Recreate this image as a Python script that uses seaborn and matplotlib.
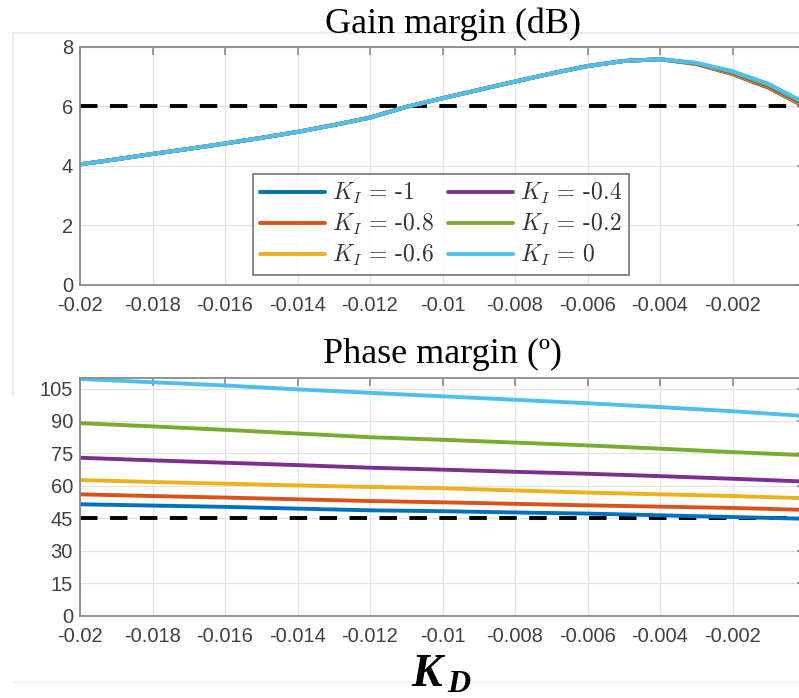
import numpy as np
import pandas as pd
import matplotlib
matplotlib.use("Agg")
import matplotlib.pyplot as plt
from matplotlib.lines import Line2D
import seaborn as sns

# ---------------- data ----------------
kd_gain = [-0.020, -0.019, -0.018, -0.017, -0.016, -0.015, -0.014, -0.013, -0.012, -0.011,
           -0.010, -0.009, -0.008, -0.007, -0.006, -0.005, -0.004, -0.003, -0.002, -0.001, 0.000]
gain_m1  = [4.05, 4.22, 4.40, 4.57, 4.75, 4.94, 5.14, 5.37, 5.62, 5.98, 6.27, 6.55, 6.83, 7.10, 7.35, 7.52, 7.58, 7.42, 7.08, 6.62, 5.98]
gain_m08 = [4.05, 4.22, 4.40, 4.57, 4.75, 4.94, 5.14, 5.37, 5.62, 5.98, 6.27, 6.55, 6.83, 7.10, 7.35, 7.52, 7.58, 7.42, 7.09, 6.63, 5.99]
gain_m06 = [4.05, 4.22, 4.40, 4.57, 4.75, 4.94, 5.14, 5.37, 5.62, 5.98, 6.27, 6.55, 6.83, 7.10, 7.35, 7.52, 7.58, 7.43, 7.11, 6.66, 6.02]
gain_m04 = [4.05, 4.22, 4.40, 4.57, 4.75, 4.94, 5.14, 5.37, 5.62, 5.98, 6.27, 6.55, 6.83, 7.10, 7.35, 7.52, 7.58, 7.44, 7.13, 6.68, 6.05]
gain_m02 = [4.05, 4.22, 4.40, 4.57, 4.75, 4.94, 5.14, 5.37, 5.62, 5.98, 6.27, 6.55, 6.83, 7.10, 7.35, 7.52, 7.58, 7.45, 7.15, 6.71, 6.08]
gain_0   = [4.05, 4.22, 4.40, 4.57, 4.75, 4.94, 5.14, 5.37, 5.62, 5.98, 6.27, 6.55, 6.83, 7.10, 7.35, 7.52, 7.58, 7.46, 7.18, 6.75, 6.12]

kd_phase = [-0.020, -0.018, -0.016, -0.014, -0.012, -0.010, -0.008, -0.006, -0.004, -0.002, 0.000]
phase_m1  = [51.5, 50.9, 50.3, 49.5, 48.7, 48.3, 47.7, 47.2, 46.4, 45.6, 44.8]
phase_m08 = [56.1, 55.3, 54.6, 53.8, 53.0, 52.4, 51.7, 51.0, 50.4, 49.8, 48.9]
phase_m06 = [62.7, 61.8, 61.0, 60.2, 59.5, 58.9, 57.9, 56.9, 56.1, 55.3, 54.3]
phase_m04 = [73.0, 71.8, 70.7, 69.6, 68.4, 67.5, 66.5, 65.6, 64.5, 63.3, 62.0]
phase_m02 = [89.0, 87.5, 85.9, 84.2, 82.5, 81.3, 80.0, 78.7, 77.2, 75.6, 74.2]
phase_0   = [109.4, 107.9, 106.4, 104.6, 103.0, 101.4, 99.8, 98.2, 96.4, 94.5, 92.3]

ki_labels = ["-1", "-0.8", "-0.6", "-0.4", "-0.2", "0"]
gain_margin_limit = 6
phase_margin_limit = 45
x_ticks = [-0.02, -0.018, -0.016, -0.014, -0.012, -0.01, -0.008, -0.006, -0.004, -0.002, 0]
x_ticklabels = ["-0.02", "-0.018", "-0.016", "-0.014", "-0.012", "-0.01", "-0.008",
                "-0.006", "-0.004", "-0.002", "0"]
gain_ticks = [0, 2, 4, 6, 8]
phase_ticks = [0, 15, 30, 45, 60, 75, 90, 105]

colors = ["#0072BD", "#D95319", "#EDB120", "#7E2F8E", "#77AC30", "#4DBEEE"]

# ---------------- long-form tables ----------------
gain_series = [gain_m1, gain_m08, gain_m06, gain_m04, gain_m02, gain_0]
phase_series = [phase_m1, phase_m08, phase_m06, phase_m04, phase_m02, phase_0]
df_gain = pd.concat([pd.DataFrame({"KD": kd_gain, "val": s, "KI": lab})
                     for s, lab in zip(gain_series, ki_labels)], ignore_index=True)
df_phase = pd.concat([pd.DataFrame({"KD": kd_phase, "val": s, "KI": lab})
                      for s, lab in zip(phase_series, ki_labels)], ignore_index=True)

# ---------------- style ----------------
sns.set_style("white")
plt.rcParams["font.family"] = ["Liberation Sans", "DejaVu Sans"]
plt.rcParams["mathtext.fontset"] = "cm"

W, H = 799, 698
fig = plt.figure(figsize=(W / 100, H / 100), dpi=100)

def px_axes(left, top, right, bottom):
    return fig.add_axes([left / W, 1 - bottom / H, (right - left) / W, (bottom - top) / H])

ax1 = px_axes(80, 46.7, 805, 285)
ax2 = px_axes(80, 377.7, 805, 615.7)

tick_color = "#404040"
spine_color = "#8a8a8a"

for ax, df, lim, yticks, ylim in [
        (ax1, df_gain, gain_margin_limit, gain_ticks, (0, 8)),
        (ax2, df_phase, phase_margin_limit, phase_ticks, (0, 110))]:
    ax.grid(True, color="#e3e3e3", linewidth=0.9)
    ax.set_axisbelow(True)
    ax.axhline(lim, color="black", linewidth=2.8, linestyle=(0, (4.5, 3.2)), zorder=1.5)
    sns.lineplot(data=df, x="KD", y="val", hue="KI", hue_order=ki_labels,
                 palette=colors, linewidth=2.8, legend=False, ax=ax, zorder=2,
                 estimator=None, sort=False)
    ax.set_xlim(-0.02, 0)
    ax.set_ylim(*ylim)
    ax.set_xticks(x_ticks)
    ax.set_xticklabels(x_ticklabels)
    ax.set_yticks(yticks)
    ax.set_xlabel("")
    ax.set_ylabel("")
    ax.tick_params(direction="in", length=6, width=1.2, color=spine_color,
                   labelcolor=tick_color, labelsize=14.5, top=True, right=True,
                   pad=5)
    ax.tick_params(axis="x", pad=8)
    for sp in ax.spines.values():
        sp.set_color(spine_color)
        sp.set_linewidth(1.3)
        sp.set_visible(True)

# legend
handles = [Line2D([0], [0], color=c, linewidth=2.8) for c in colors]
labels = [r"$K_I$ = " + lab for lab in ki_labels]
leg = ax1.legend(handles, labels, ncol=2, loc="upper left",
                 bbox_to_anchor=((253 - 80) / (805 - 80), (285 - 174) / (285 - 46.7)),
                 frameon=True, fancybox=False, edgecolor="#555555",
                 prop={"family": "cmr10", "size": 17}, handlelength=2.75,
                 handletextpad=0.3, columnspacing=0.6, labelspacing=0.25,
                 borderpad=0.3, borderaxespad=0)
leg.get_frame().set_linewidth(1.2)
for t in leg.get_texts():
    t.set_color("#333333")

# titles
fig.text(453 / W, 1 - 33 / H, "Gain margin (dB)", ha="center", va="baseline",
         fontsize=26, family="Liberation Serif", color="black")
fig.text(443 / W, 1 - 363 / H, "Phase margin (º)", ha="center", va="baseline",
         fontsize=26, family="Liberation Serif", color="black")

# x label K_D
fig.text(411 / W, 1 - 686 / H, "K", ha="left", va="baseline", fontsize=33,
         family="Liberation Serif", weight="bold", style="italic", color="black")
fig.text(447 / W, 1 - 692 / H, "D", ha="left", va="baseline", fontsize=23,
         family="Liberation Serif", weight="bold", style="italic", color="black")

# faint frame remnants of the original composite
frame_c = "#e9e9e9"
fig.add_artist(Line2D([13 / W, 1], [1 - 33 / H, 1 - 33 / H], color=frame_c, linewidth=1.2))
fig.add_artist(Line2D([13 / W, 13 / W], [1 - 33 / H, 1 - 330 / H], color=frame_c, linewidth=1.2))
fig.add_artist(Line2D([13 / W, 13 / W], [1 - 330 / H, 1 - 395 / H], color=frame_c, linewidth=1.2))
fig.add_artist(Line2D([13 / W, 1], [1 - 682 / H, 1 - 682 / H], color="#f0f0f0", linewidth=1.0))

fig.savefig("out.png", dpi=100)
